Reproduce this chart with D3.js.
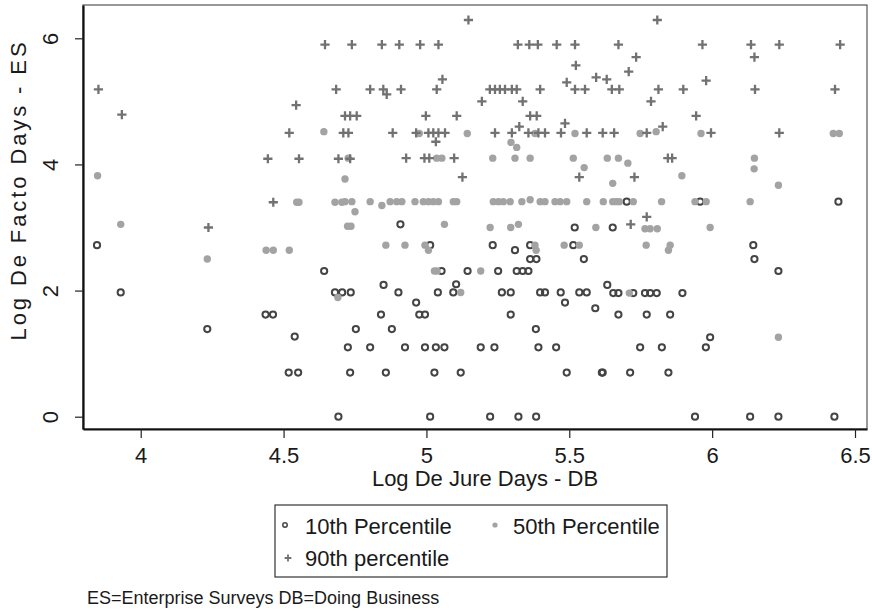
<!DOCTYPE html>
<html>
    <head>
        <meta charset="UTF-8">
        <title>De Jure vs De Facto Days</title>
        <style>
            body { margin: 0; background: #fff; }
            text { font-family: "Liberation Sans", Arial, sans-serif; fill: #1a1a1a; }
        </style>
    </head>
    <body>
        <script src="https://d3js.org/d3.v7.min.js"></script>
        <svg></svg>
        <script>
            // [log de jure days, log de facto days]
            let p10 = [
                [3.847,2.72],[3.930,1.97],[4.233,1.39],[4.437,1.62],[4.463,1.62],[4.539,1.27],[4.518,0.70],[4.551,0.70],
                [4.642,2.31],[4.680,1.97],[4.705,1.97],[4.735,1.97],[4.692,0],[4.725,1.10],
                [4.909,3.05],[5.013,2.72],[5.232,2.72],[5.310,2.64],[5.363,2.72],[5.514,2.72],[5.519,3.00],
                [5.363,2.50],[5.385,2.50],[5.551,2.50],
                [5.053,2.31],[5.144,2.31],[5.251,2.31],[5.316,2.31],[5.337,2.31],[5.357,2.31],
                [4.850,2.09],[5.104,2.10],
                [4.902,1.97],[5.040,1.97],[5.094,1.97],[5.264,1.97],[5.295,1.97],[5.398,1.97],[5.415,1.97],[5.470,1.97],[5.535,1.97],[5.561,1.97],
                [4.964,1.81],[5.485,1.81],[5.591,1.72],
                [4.841,1.62],[4.975,1.62],[4.995,1.62],[5.295,1.62],
                [4.753,1.39],[4.879,1.39],[5.383,1.39],
                [4.803,1.10],[4.925,1.10],[4.995,1.10],[5.033,1.10],[5.063,1.10],[5.190,1.10],[5.238,1.10],[5.392,1.10],[5.454,1.10],
                [4.733,0.70],[4.858,0.70],[5.028,0.70],[5.120,0.70],[5.491,0.70],[5.614,0.70],
                [5.013,0],[5.223,0],[5.322,0],[5.384,0],
                [5.701,3.41],[5.958,3.41],[6.442,3.41],
                [5.652,3.00],[6.144,2.72],[6.148,2.50],[6.232,2.31],[5.633,2.09],
                [5.654,1.96],[5.672,1.96],[5.724,1.96],[5.765,1.96],[5.783,1.96],[5.806,1.96],[5.896,1.96],
                [5.672,1.62],[5.771,1.62],[5.853,1.62],
                [5.993,1.26],
                [5.748,1.10],[5.824,1.10],[5.978,1.10],
                [5.617,0.70],[5.713,0.70],[5.847,0.70],
                [5.940,0],[6.133,0],[6.232,0],[6.428,0]
            ];

            let p50 = [
                [3.849,3.82],[3.930,3.05],[4.233,2.50],[4.439,2.64],[4.464,2.64],[4.520,2.64],[4.641,4.52],
                [4.546,3.40],[4.554,3.40],[4.680,3.40],[4.704,3.40],[4.690,1.89],
                [4.715,3.77],[4.726,4.10],[4.750,3.25],[4.724,3.02],[4.736,3.02],
                [4.975,4.49],[5.143,4.49],[5.380,4.49],[5.520,4.49],[5.748,4.49],[5.804,4.52],[5.961,4.49],[6.424,4.49],[6.445,4.49],
                [5.296,4.35],[5.316,4.27],
                [5.036,4.10],[5.054,4.10],[5.232,4.10],[5.310,4.10],[5.363,4.10],[5.514,4.10],[5.633,4.10],[5.672,4.10],[6.148,4.10],
                [5.552,3.95],[5.705,4.02],[6.147,3.93],[5.652,3.70],[5.894,3.82],[6.232,3.67],
                [4.715,3.41],[4.739,3.41],[4.803,3.41],[4.844,3.35],[4.873,3.41],[4.896,3.41],[4.914,3.41],[4.960,3.41],
                [4.989,3.41],[5.007,3.41],[5.024,3.41],[5.042,3.41],[5.094,3.41],[5.106,3.41],[5.234,3.41],[5.252,3.41],
                [5.269,3.41],[5.293,3.41],[5.334,3.41],[5.363,3.44],[5.398,3.41],[5.415,3.41],[5.450,3.41],[5.468,3.41],
                [5.491,3.41],[5.561,3.41],[5.619,3.41],[5.652,3.41],[5.664,3.41],[5.675,3.41],[5.724,3.41],[5.823,3.41],
                [5.940,3.41],[5.979,3.41],[6.133,3.41],
                [5.063,3.05],[5.223,3.00],[5.295,3.00],[5.322,3.05],[5.593,3.00],
                [4.858,2.72],[4.925,2.72],[4.995,2.72],[5.007,2.64],[5.380,2.72],[5.384,2.64],[5.482,2.72],[5.535,2.72],
                [5.028,2.31],[5.037,2.31],[5.190,2.31],[5.120,1.97],[5.710,1.96],
                [5.765,2.98],[5.783,2.98],[5.808,2.98],[5.993,3.00],[5.769,2.72],[5.853,2.72],[5.847,2.64],[6.232,1.26]
            ];

            let p90 = [
                [3.852,5.19],[3.934,4.79],[4.237,3.00],[4.445,4.09],[4.464,3.40],[4.520,4.50],[4.544,4.94],[4.554,4.09],
                [4.645,5.90],[4.684,5.19],[4.692,4.09],[4.733,4.09],[4.709,4.50],[4.727,4.50],[4.715,4.77],[4.733,4.77],[4.756,4.77],
                [4.739,5.90],[4.844,5.90],[4.905,5.90],[4.978,5.90],[5.042,5.90],[5.320,5.90],[5.360,5.90],[5.390,5.90],
                [5.456,5.90],[5.520,5.90],[5.672,5.90],[5.966,5.90],[6.136,5.90],[6.235,5.90],[6.448,5.90],
                [5.147,6.29],[5.808,6.29],[5.523,5.57],[5.734,5.70],[6.148,5.70],[5.708,5.47],
                [5.056,5.35],[5.491,5.30],[5.594,5.38],[5.631,5.35],[5.979,5.33],
                [4.803,5.19],[4.849,5.19],[4.861,5.11],[4.911,5.19],[5.036,5.19],[5.222,5.19],[5.240,5.19],[5.257,5.19],
                [5.275,5.19],[5.299,5.19],[5.316,5.19],[5.398,5.19],[5.520,5.19],[5.555,5.19],[5.649,5.19],[5.675,5.19],
                [5.812,5.19],[5.899,5.19],[6.150,5.19],[6.430,5.19],
                [5.194,5.00],[5.337,5.00],[5.786,5.00],
                [4.998,4.77],[5.106,4.77],[5.363,4.77],[5.386,4.77],[5.944,4.77],
                [5.485,4.65],[5.325,4.60],[5.827,4.60],
                [4.882,4.50],[4.964,4.50],[5.007,4.50],[5.024,4.50],[5.042,4.50],[5.065,4.50],[5.240,4.50],[5.299,4.50],
                [5.357,4.50],[5.392,4.50],[5.415,4.50],[5.471,4.50],[5.561,4.50],[5.617,4.50],[5.657,4.50],[5.771,4.50],
                [5.996,4.50],[6.235,4.50],
                [5.033,4.36],
                [4.929,4.10],[4.993,4.10],[5.010,4.10],[5.097,4.10],[5.845,4.10],[5.860,4.10],
                [5.126,3.80],[5.535,3.80],[5.728,3.80],[5.771,3.17],[5.715,3.05]
            ];

            let xTicks = [4, 4.5, 5, 5.5, 6, 6.5];
            let yTicks = [0, 2, 4, 6];
            let seriesNames = ["10th Percentile", "50th Percentile", "90th percentile"];

            let W = 872, H = 611;
            let plot = {left: 83, right: 867, top: 5, bottom: 429};

            let svg = d3.select("svg")
                .attr("width", W)
                .attr("height", H);

            let xScale = d3.scaleLinear()
                .domain([3.798, 6.542])
                .range([plot.left, plot.right]);
            let yScale = d3.scaleLinear()
                .domain([-0.195, 6.528])
                .range([plot.bottom, plot.top]);

            // plot region outline
            svg.append("rect")
                .attr("x", plot.left)
                .attr("y", plot.top)
                .attr("width", plot.right - plot.left)
                .attr("height", plot.bottom - plot.top)
                .attr("fill", "white")
                .attr("stroke", "#555")
                .attr("stroke-width", 1.2);

            let xAxis = svg.append("g")
                .attr("transform", "translate(0," + plot.bottom + ")")
                .call(d3.axisBottom(xScale).tickValues(xTicks).tickSize(9).tickSizeOuter(0).tickFormat(d => d));
            xAxis.select(".domain").attr("stroke", "#111").attr("stroke-width", 2.2);
            xAxis.selectAll(".tick line").attr("stroke", "#222").attr("stroke-width", 1.2);
            xAxis.selectAll(".tick text")
                .attr("y", 34)
                .attr("dy", 0)
                .style("font-size", "22px")
                .attr("fill", "#1a1a1a");

            let yAxis = svg.append("g")
                .attr("transform", "translate(" + plot.left + ",0)")
                .call(d3.axisLeft(yScale).tickValues(yTicks).tickSize(8).tickSizeOuter(0).tickFormat(d => d));
            yAxis.select(".domain").attr("stroke", "#111").attr("stroke-width", 2.2);
            yAxis.selectAll(".tick line").attr("stroke", "#222").attr("stroke-width", 1.2);
            yAxis.selectAll(".tick text")
                .attr("x", 0)
                .attr("y", 0)
                .attr("dy", 0)
                .attr("text-anchor", "middle")
                .attr("transform", "translate(-25,0) rotate(-90)")
                .style("font-size", "22px")
                .attr("fill", "#1a1a1a");

            // markers
            let g = svg.append("g");

            g.selectAll("circle.p10")
                .data(p10)
                .enter()
                .append("circle")
                .attr("class", "p10")
                .attr("cx", d => xScale(d[0]))
                .attr("cy", d => yScale(d[1]))
                .attr("r", 3.1)
                .attr("fill", "none")
                .attr("stroke", "#444")
                .attr("stroke-width", 2);

            g.selectAll("circle.p50")
                .data(p50)
                .enter()
                .append("circle")
                .attr("class", "p50")
                .attr("cx", d => xScale(d[0]))
                .attr("cy", d => yScale(d[1]))
                .attr("r", 3.7)
                .attr("fill", "#a3a3a3");

            g.selectAll("path.p90")
                .data(p90)
                .enter()
                .append("path")
                .attr("class", "p90")
                .attr("transform", d => "translate(" + xScale(d[0]) + "," + yScale(d[1]) + ")")
                .attr("d", "M-4.6,0H4.6M0,-4.6V4.6")
                .attr("stroke", "#727272")
                .attr("stroke-width", 2.3);

            // axis titles
            svg.append("text")
                .attr("x", (plot.left + plot.right) / 2 + 10)
                .attr("y", 486)
                .attr("text-anchor", "middle")
                .style("font-size", "22px")
                .text("Log De Jure Days - DB");

            svg.append("text")
                .attr("transform", "translate(26,190) rotate(-90)")
                .attr("text-anchor", "middle")
                .style("font-size", "22px")
                .style("letter-spacing", "2.9px")
                .text("Log De Facto Days - ES");

            // legend
            let legend = svg.append("g");
            legend.append("rect")
                .attr("x", 275)
                .attr("y", 505)
                .attr("width", 392)
                .attr("height", 72)
                .attr("fill", "white")
                .attr("stroke", "#333")
                .attr("stroke-width", 1.2);

            legend.append("circle")
                .attr("cx", 285).attr("cy", 525).attr("r", 2.2)
                .attr("fill", "none").attr("stroke", "#444").attr("stroke-width", 1.5);
            legend.append("text")
                .attr("x", 305).attr("y", 534)
                .style("font-size", "22px")
                .text(seriesNames[0]);

            legend.append("circle")
                .attr("cx", 495).attr("cy", 525).attr("r", 2.6)
                .attr("fill", "#a3a3a3");
            legend.append("text")
                .attr("x", 513).attr("y", 534)
                .style("font-size", "22px")
                .text(seriesNames[1]);

            legend.append("path")
                .attr("transform", "translate(288,558)")
                .attr("d", "M-3.4,0H3.4M0,-3.4V3.4")
                .attr("stroke", "#727272")
                .attr("stroke-width", 1.8);
            legend.append("text")
                .attr("x", 305).attr("y", 566)
                .style("font-size", "22px")
                .text(seriesNames[2]);

            // note
            svg.append("text")
                .attr("x", 87)
                .attr("y", 604)
                .style("font-size", "18px")
                .text("ES=Enterprise Surveys DB=Doing Business");
        </script>
    </body>
</html>
